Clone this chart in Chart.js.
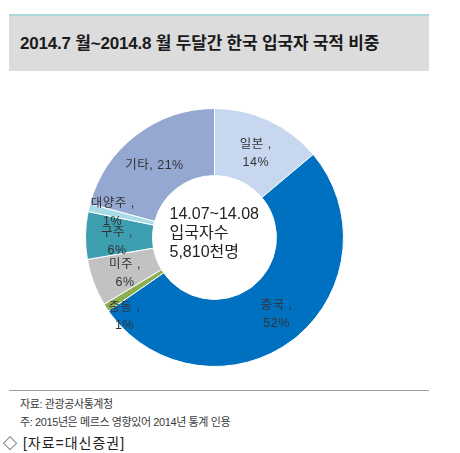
<!DOCTYPE html>
<html lang="ko">
<head>
<meta charset="utf-8">
<script src="https://cdn.jsdelivr.net/npm/chart.js@4"></script>
<style>
  body { margin: 0; background: #fff; font-family: "Liberation Sans", Arial, "Noto Sans CJK KR", sans-serif; }
  #page { position: relative; width: 460px; height: 453px; overflow: hidden; }
  #title {
    position: absolute; left: 9px; top: 14px; width: 420px; height: 57px;
    background: #dcdcdc; border-top: 2px solid #a9d8d8;
    box-sizing: border-box; padding-left: 11px;
    font-size: 17px; font-weight: bold; color: #1a1a1a; line-height: 55px; letter-spacing: -0.2px;
  }
  #chartBox { position: absolute; left: 85px; top: 108px; width: 259px; height: 259px; }
  #rule { position: absolute; left: 9px; top: 390px; width: 420px; height: 0; border-top: 1px solid #a0a0a0; }
  .note { position: absolute; left: 20px; font-size: 11px; color: #3a3a3a; letter-spacing: -0.4px; }
  #src2 { position: absolute; left: 3px; top: 432px; font-size: 14px; color: #222; letter-spacing: 1px; }
</style>
</head>
<body>
<div id="page">
  <div id="title">2014.7 월~2014.8 월 두달간 한국 입국자 국적 비중</div>
  <div id="chartBox"><canvas id="pie"></canvas></div>
  <div id="rule"></div>
  <div class="note" style="top:395px">자료: 관광공사통계청</div>
  <div class="note" style="top:413px">주: 2015년은 메르스 영향있어 2014년 통계 인용</div>
  <div id="src2">◇ [자료=대신증권]</div>
</div>
<script>
// 국적별 비중 (%)
const categories = ['일본', '중국', '중동', '미주', '구주', '대양주', '기타']
const shares = [14, 52, 1, 6, 6, 1, 21]
const centerLines = ['14.07~14.08', '입국자수', '5,810천명']

// slice colours, same order as categories
const sliceColors = ['#c6d7ef', '#0070c0', '#8aae50', '#c2c2c2', '#3d9eb0', '#a8dce8', '#94a8d2']
// nudges for labels away from the slice centre (px)
const labelShift = [[1, 3], [4, 1], [-10, 27], [0, 3], [-2, 6], [-9, -3], [-2, 4]]

const labelPlugin = {
  id: 'sliceLabels',
  afterDatasetsDraw(chart) {
    const ctx = chart.ctx
    const arcs = chart.getDatasetMeta(0).data
    ctx.save()
    ctx.fillStyle = '#333'
    ctx.textAlign = 'center'
    ctx.textBaseline = 'middle'
    ctx.font = '12.5px "Liberation Sans", Arial, "Noto Sans CJK KR"'
    ctx.letterSpacing = '0.5px'
    arcs.forEach((arc, i) => {
      const p = arc.getCenterPoint()
      const x = p.x + labelShift[i][0]
      const y = p.y + labelShift[i][1]
      if (categories[i] === '기타') {
        ctx.fillText(categories[i] + ', ' + shares[i] + '%', x, y)
      } else {
        ctx.fillText(categories[i] + ' ,', x, y - 9)
        ctx.fillText(shares[i] + '%', x, y + 9)
      }
    })
    // centre text
    const c = arcs[0]
    ctx.letterSpacing = '0px'
    ctx.textAlign = 'left'
    ctx.font = '16px "Liberation Sans", Arial, "Noto Sans CJK KR"'
    ctx.fillStyle = '#222'
    centerLines.forEach((t, k) => {
      ctx.fillText(t, c.x - 45, c.y - 23 + k * 19)
    })
    ctx.restore()
  }
}

const pieConfig = {
  type: 'doughnut',
  data: {
    labels: categories,
    datasets: [
      {
        data: shares,
        backgroundColor: sliceColors,
        borderColor: '#ffffff',
        borderWidth: 1,
        hoverOffset: 0,
      },
    ],
  },
  options: {
    responsive: true,
    maintainAspectRatio: false,
    animation: false,
    cutout: '48%',
    plugins: {
      legend: { display: false },
      tooltip: { enabled: false },
    },
  },
  plugins: [labelPlugin],
}

const pieCtx = document.getElementById('pie')
window.myPie = new Chart(pieCtx, pieConfig)
</script>
</body>
</html>
